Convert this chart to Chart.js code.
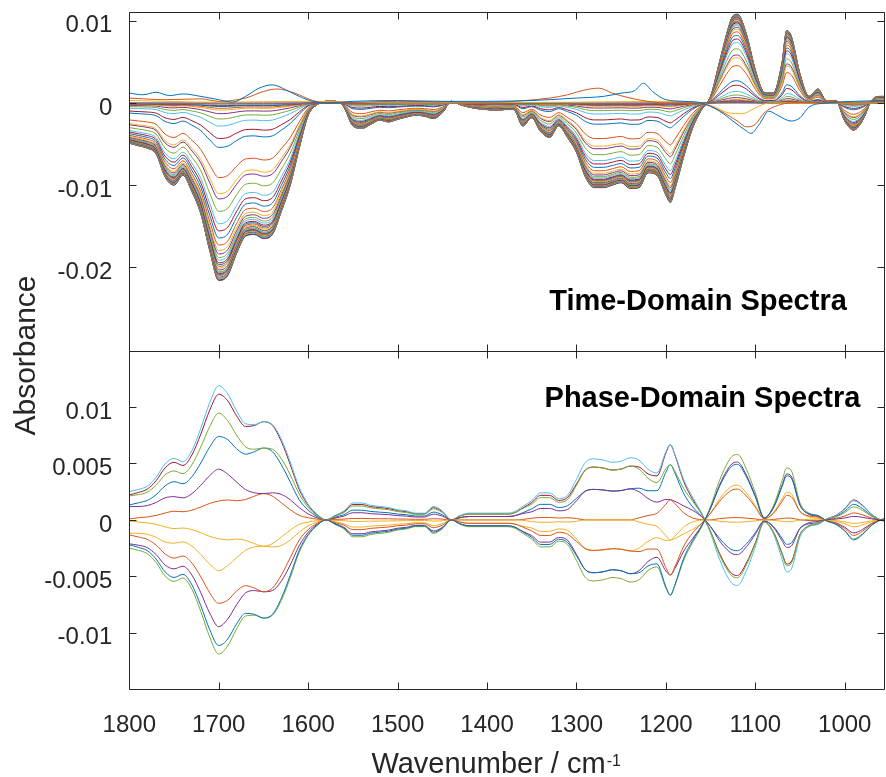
<!DOCTYPE html>
<html>
<head>
<meta charset="utf-8">
<script src="https://cdn.jsdelivr.net/npm/chart.js@4.4.0/dist/chart.umd.min.js"></script>
<style>
  html, body { margin: 0; padding: 0; background: #fff; }
</style>
</head>
<body>
<canvas id="spectra" width="886" height="777"></canvas>
<script>
// shared wavenumber grid (cm-1)
const wavenumbers = [
  1800, 1790, 1780, 1770, 1760, 1750, 1740, 1730, 1720, 1710,
  1700, 1690, 1680, 1670, 1660, 1650, 1640, 1630, 1620, 1610,
  1600, 1590, 1580, 1570, 1560, 1550, 1540, 1530, 1520, 1510,
  1500, 1490, 1480, 1470, 1460, 1450, 1440, 1430, 1420, 1410,
  1400, 1390, 1380, 1370, 1360, 1350, 1340, 1330, 1320, 1310,
  1300, 1290, 1280, 1270, 1260, 1250, 1240, 1230, 1220, 1210,
  1200, 1195, 1190, 1180, 1170, 1160, 1150, 1140, 1130, 1125,
  1120, 1110, 1100, 1090, 1080, 1070, 1065, 1060, 1050, 1040,
  1030, 1020, 1010, 1000, 990, 980, 970, 960, 950
];

// time-domain: fully developed difference spectrum (lowest envelope)
const tdProfile = [
  -0.0049, -0.0052, -0.0055, -0.0062, -0.0090, -0.0100, -0.0088, -0.0108, -0.0135, -0.0180,
  -0.0216, -0.0210, -0.0183, -0.0162, -0.0160, -0.0165, -0.0160, -0.0132, -0.0100, -0.0055,
  -0.0015, -0.0002, 0.0002, 0.0002, -0.0005, -0.0028, -0.0031, -0.0026, -0.0021, -0.0023,
  -0.0020, -0.0017, -0.0015, -0.0016, -0.0019, -0.0012, 0.0002, -0.0002, -0.0005, -0.0007,
  -0.0008, -0.0009, -0.0008, -0.0008, -0.0028, -0.0018, -0.0035, -0.0042, -0.0028, -0.0042,
  -0.0060, -0.0090, -0.0103, -0.0103, -0.0100, -0.0097, -0.0104, -0.0103, -0.0085, -0.0088,
  -0.0112, -0.0121, -0.0105, -0.0065, -0.0030, -0.0008, 0.0008, 0.0050, 0.0092, 0.0106,
  0.0108, 0.0084, 0.0040, 0.0013, 0.0012, 0.0050, 0.0088, 0.0082, 0.0035, 0.0008,
  0.0017, 0.0002, 0.0003, -0.0022, -0.0033, -0.0021, 0.0003, 0.0008, 0.0008
];

// relative size of each time-domain spectrum (read at 1700 cm-1)
const tdScale = [
  0, 0.005, 0.01, 0.015, 0.02, 0.03, 0.04, 0.06, 0.09, 0.13,
  0.2, 0.25, 0.42, 0.51, 0.54, 0.61, 0.68, 0.72, 0.76, 0.8,
  0.83, 0.85, 0.87, 0.885, 0.9, 0.91, 0.92, 0.93, 0.94, 0.95,
  0.955, 0.96, 0.965, 0.97, 0.975, 0.98, 0.985, 0.99, 0.995, 0.998, 1.0
];

// early spectra that do not follow the main profile [wavenumber, absorbance]
const earlyBlue = [
  [1800, 0.0012], [1785, 0.0010], [1770, 0.0013], [1755, 0.0009], [1740, 0.0011], [1720, 0.0008],
  [1700, 0.0004], [1685, 0.0001], [1670, 0.0008], [1655, 0.0018], [1640, 0.0022], [1625, 0.0016],
  [1610, 0.0008], [1595, 0.0002], [1580, 0], [1550, 0.0002], [1500, 0.0003], [1450, 0.0002],
  [1400, 0.0002], [1350, 0.0003], [1300, 0.0006], [1270, 0.0008], [1250, 0.0012], [1235, 0.0015],
  [1225, 0.0024], [1215, 0.0014], [1200, 0.0004], [1180, 0.0002], [1160, 0], [1140, -0.0010],
  [1125, -0.0022], [1110, -0.0034], [1105, -0.0037], [1095, -0.0025], [1085, -0.0010],
  [1075, -0.0015], [1060, -0.0022], [1050, -0.0018], [1040, -0.0005], [1020, 0], [990, 0.0002], [950, 0.0003]
];
const earlyOrange = [
  [1800, 0.0006], [1760, 0.0004], [1720, 0.0005], [1700, 0.0002], [1670, 0.0006], [1650, 0.0014],
  [1635, 0.0017], [1615, 0.0012], [1595, 0.0003], [1580, 0], [1500, 0.0002], [1400, 0.0001],
  [1330, 0.0006], [1310, 0.0010], [1290, 0.0016], [1275, 0.0018], [1260, 0.0012], [1240, 0.0006],
  [1220, 0.0002], [1200, 0], [1165, 0], [1150, -0.0004], [1135, -0.0012], [1120, -0.0022],
  [1110, -0.0029], [1100, -0.0026], [1090, -0.0012], [1075, -0.0003], [1060, 0], [1000, 0.0001], [950, 0.0002]
];
const earlyYellow = [
  [1800, 0.0003], [1700, 0.0001], [1600, 0.0002], [1500, 0], [1300, 0.0001], [1200, 0.0002],
  [1160, 0], [1145, -0.0005], [1130, -0.0012], [1115, -0.0013], [1100, -0.0006], [1085, 0], [950, 0]
];

// phase-domain: amplitude and phase lag at each wavenumber, 12 demodulation angles
const pdAmplitude = [
  0.0025, 0.0027, 0.0030, 0.0038, 0.0050, 0.0055, 0.0052, 0.0062, 0.0082, 0.0105,
  0.0120, 0.0113, 0.0098, 0.0087, 0.0087, 0.0090, 0.0087, 0.0073, 0.0052, 0.0029,
  0.0014, 0.0005, 0.0000, 0.0004, 0.0008, 0.0015, 0.0015, 0.0013, 0.0012, 0.0011,
  0.0009, 0.0008, 0.0006, 0.0006, 0.0012, 0.0008, 0.0000, 0.0004, 0.0006, 0.0006,
  0.0006, 0.0006, 0.0006, 0.0007, 0.0012, 0.0017, 0.0024, 0.0024, 0.0019, 0.0022,
  0.0036, 0.0051, 0.0054, 0.0053, 0.0051, 0.0052, 0.0055, 0.0053, 0.0045, 0.0042,
  0.0062, 0.0069, 0.0060, 0.0036, 0.0020, 0.0006, -0.0012, -0.0035, -0.0052, -0.0057,
  -0.0058, -0.0045, -0.0024, -0.0002, -0.0012, -0.0035, -0.0046, -0.0044, -0.0015, -0.0006,
  -0.0004, 0.0001, 0.0004, 0.0010, 0.0018, 0.0013, 0.0005, 0.0000, -0.0002
];
const pdPhase = [
  152, 154, 155, 156, 157, 158, 158, 158, 158, 158,
  158, 159, 160, 162, 164, 165, 164, 162, 160, 158,
  158, 158, 158, 156, 155, 155, 155, 155, 155, 155,
  155, 155, 155, 155, 155, 155, 155, 150, 150, 150,
  150, 150, 150, 150, 152, 155, 155, 155, 155, 155,
  152, 150, 150, 150, 150, 150, 150, 152, 155, 158,
  163, 165, 164, 160, 155, 152, 150, 148, 148, 148,
  148, 148, 148, 148, 148, 148, 148, 148, 150, 155,
  160, 165, 170, 170, 170, 170, 170, 170, 170
];
const phaseAngles = [0, 30, 60, 90, 120, 150, 180, 210, 240, 270, 300, 330];

const xTicks = [1800, 1700, 1600, 1500, 1400, 1300, 1200, 1100, 1000];
const tdTicks = [-0.02, -0.01, 0, 0.01];
const pdTicks = [-0.01, -0.005, 0, 0.005, 0.01];

const palette = ['#0072BD', '#D95319', '#EDB120', '#7E2F8E', '#77AC30', '#4DBEEE', '#A2142F'];
const FONT = '"Liberation Sans", Arial, Helvetica, sans-serif';
const INK = '#262626';

Chart.defaults.font.family = FONT;

// build datasets
const datasets = [];
const tdSeries = [earlyBlue, earlyOrange, earlyYellow].map(arr => arr.map(p => ({ x: p[0], y: p[1] })));
tdScale.forEach(s => {
  tdSeries.push(wavenumbers.map((w, i) => ({ x: w, y: tdProfile[i] * s })));
});
tdSeries.forEach((data, i) => {
  datasets.push({ data, yAxisID: 'yTop', borderColor: palette[i % 7] });
});
phaseAngles.forEach((phi, k) => {
  const data = wavenumbers.map((w, i) => ({
    x: w,
    y: pdAmplitude[i] * Math.cos((phi - pdPhase[i]) * Math.PI / 180)
  }));
  datasets.push({ data, yAxisID: 'yBottom', borderColor: palette[k % 7] });
});

function fixedTicks(list) {
  return scale => { scale.ticks = list.map(v => ({ value: v })); };
}
const fmt = v => String(+(+v).toFixed(4));

const yCommon = {
  type: 'linear',
  position: 'left',
  stack: 'panels',
  stackWeight: 1,
  grid: { display: false },
  border: { display: false },
  ticks: {
    font: { size: 24 }, color: INK, padding: 9, labelOffset: 5,
    autoSkip: false, callback: fmt
  },
  afterFit: s => { s.width = 129.3; s.paddingTop = 0; s.paddingBottom = 0; }
};

// panel frames, inward ticks, axis titles, panel labels
const framePlugin = {
  id: 'panelFrame',
  afterDraw(chart) {
    const { ctx, chartArea: area, scales } = chart;
    const xs = scales.x;
    const tickLen = 7;
    const snap = v => Math.round(v) + 0.5;
    ctx.save();
    ctx.strokeStyle = INK;
    ctx.lineWidth = 1;
    [scales.yTop, scales.yBottom].forEach(ys => {
      const l = snap(area.left), r = snap(area.right - 1);
      const t = snap(ys.top), b = snap(ys.bottom);
      ctx.beginPath();
      ctx.rect(l, t, r - l, b - t);
      ys.ticks.forEach(tk => {
        const py = snap(ys.getPixelForValue(tk.value));
        ctx.moveTo(l, py); ctx.lineTo(l + tickLen, py);
        ctx.moveTo(r, py); ctx.lineTo(r - tickLen, py);
      });
      xs.ticks.forEach(tk => {
        const px = snap(xs.getPixelForValue(tk.value));
        ctx.moveTo(px, t); ctx.lineTo(px, t + tickLen);
        ctx.moveTo(px, b); ctx.lineTo(px, b - tickLen);
      });
      ctx.stroke();
    });

    // panel labels
    ctx.fillStyle = '#000';
    ctx.font = 'bold 29px ' + FONT;
    ctx.textAlign = 'center';
    ctx.textBaseline = 'alphabetic';
    ctx.fillText('Time-Domain Spectra', area.right - 187, scales.yTop.bottom - 41);
    ctx.fillText('Phase-Domain Spectra', area.right - 182.5, scales.yBottom.top + 56.5);

    // y title
    ctx.fillStyle = INK;
    ctx.font = '30px ' + FONT;
    ctx.save();
    ctx.translate(area.left - 94, (scales.yTop.top + scales.yBottom.bottom) / 2 + 5);
    ctx.rotate(-Math.PI / 2);
    ctx.fillText('Absorbance', 0, 0);
    ctx.restore();

    // x title with superscript
    const main = 'Wavenumber / cm';
    const sup = '-1';
    ctx.font = '29px ' + FONT;
    const w1 = ctx.measureText(main).width;
    ctx.font = '16px ' + FONT;
    const w2 = ctx.measureText(sup).width;
    const cx = (area.left + area.right) / 2 - 11.5;
    const x0 = cx - (w1 + w2) / 2;
    const base = xs.bottom - 4;
    ctx.textAlign = 'left';
    ctx.font = '29px ' + FONT;
    ctx.fillText(main, x0, base);
    ctx.font = '16px ' + FONT;
    ctx.fillText(sup, x0 + w1 + 1, base - 7);
    ctx.restore();
  }
};

new Chart(document.getElementById('spectra'), {
  type: 'line',
  data: { datasets },
  options: {
    responsive: false,
    animation: false,
    events: [],
    layout: { padding: { top: 11.7, right: 1, left: 0, bottom: 0 } },
    plugins: { legend: { display: false }, tooltip: { enabled: false } },
    elements: {
      point: { radius: 0 },
      line: { borderWidth: 1, cubicInterpolationMode: 'monotone', fill: false }
    },
    scales: {
      x: {
        type: 'linear',
        reverse: true,
        min: 955,
        max: 1800,
        position: 'bottom',
        grid: { display: false },
        border: { display: false },
        ticks: {
          font: { size: 24 }, color: INK, padding: 14,
          autoSkip: false, maxRotation: 0, callback: v => String(v)
        },
        afterBuildTicks: fixedTicks(xTicks),
        afterFit: s => { s.height = 87.7; s.paddingLeft = 0; s.paddingRight = 0; }
      },
      yTop: Object.assign({}, yCommon, {
        weight: 2, min: -0.0301, max: 0.0111,
        afterBuildTicks: fixedTicks(tdTicks)
      }),
      yBottom: Object.assign({}, yCommon, {
        weight: 1, min: -0.015, max: 0.015,
        afterBuildTicks: fixedTicks(pdTicks)
      })
    }
  },
  plugins: [framePlugin]
});
</script>
</body>
</html>
